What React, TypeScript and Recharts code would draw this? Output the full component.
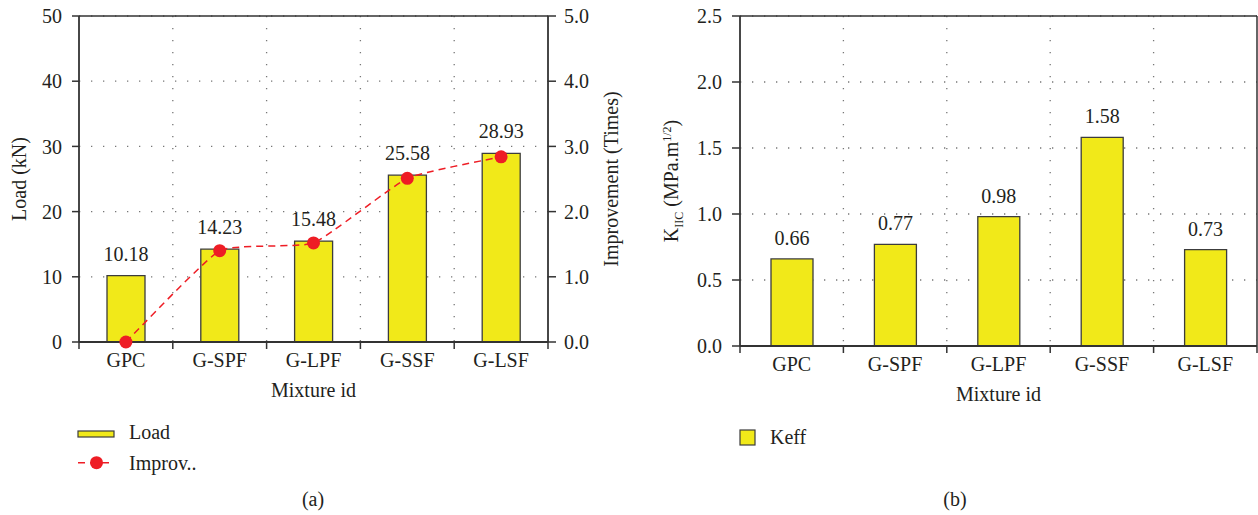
import React from "react";
import {
  ComposedChart,
  BarChart,
  Bar,
  Line,
  XAxis,
  YAxis,
  CartesianGrid,
  LabelList,
  Legend,
  ReferenceLine,
} from "recharts";

// values
const mixtures = ["GPC", "G-SPF", "G-LPF", "G-SSF", "G-LSF"];
const loadKN = [10.18, 14.23, 15.48, 25.58, 28.93];
const improvementTimes = [0, 1.4, 1.52, 2.51, 2.84];
const keffValues = [0.66, 0.77, 0.98, 1.58, 0.73];

const loadTicks = [0, 10, 20, 30, 40, 50];
const improvementTicks = [0, 1, 2, 3, 4, 5];
const keffTicks = [0, 0.5, 1, 1.5, 2, 2.5];

const loadData = mixtures.map((m, i) => ({
  mixture: m,
  load: loadKN[i],
  improvement: improvementTimes[i],
}));
const keffData = mixtures.map((m, i) => ({ mixture: m, keff: keffValues[i] }));

const FONT = "'Liberation Serif', 'DejaVu Serif', serif";
const TEXT = "#231F20";
const AXIS = "#333333";
const GRID = "#777777";
const YELLOW = "#F1E919";
const BAR_STROKE = "#3C3C3C";
const RED = "#EE1D25";
const FS = 20;

const tickStyle = { fontSize: FS, fontFamily: FONT, fill: TEXT };

// lightly smoothed line: cardinal spline with a low tension, close to straight segments
const SMOOTH = 1 / 14;
const smoothCurve = (context: any) => {
  let pts: number[][] = [];
  return {
    areaStart() {},
    areaEnd() {},
    lineStart() {
      pts = [];
    },
    point(x: number, y: number) {
      pts.push([+x, +y]);
    },
    lineEnd() {
      if (!pts.length) return;
      context.moveTo(pts[0][0], pts[0][1]);
      for (let i = 0; i < pts.length - 1; i++) {
        const p0 = pts[i - 1] || pts[i];
        const p1 = pts[i];
        const p2 = pts[i + 1];
        const p3 = pts[i + 2] || p2;
        context.bezierCurveTo(
          p1[0] + (p2[0] - p0[0]) * SMOOTH,
          p1[1] + (p2[1] - p0[1]) * SMOOTH,
          p2[0] - (p3[0] - p1[0]) * SMOOTH,
          p2[1] - (p3[1] - p1[1]) * SMOOTH,
          p2[0],
          p2[1]
        );
      }
    },
  };
};

// category tick: label at band centre, tick marks on the band edges
const CategoryTick = (props: any) => {
  const { x, y, payload, index, width } = props;
  const band = width / mixtures.length;
  const axisY = y - 10;
  const left = x - band / 2;
  const right = x + band / 2;
  return (
    <g>
      <line x1={left} x2={left} y1={axisY} y2={axisY + 7} stroke={AXIS} strokeWidth={1.5} />
      {index === mixtures.length - 1 && (
        <line x1={right} x2={right} y1={axisY} y2={axisY + 7} stroke={AXIS} strokeWidth={1.5} />
      )}
      <text x={x} y={y} dy="0.75em" textAnchor="middle" fontSize={FS} fontFamily={FONT} fill={TEXT}>
        {payload.value}
      </text>
    </g>
  );
};

const bandEdges = ({ offset }: any) =>
  [1, 2, 3, 4].map((i) => offset.left + (i * offset.width) / mixtures.length);

const xTitle = (dy: number) => (p: any) => {
  const vb = p.viewBox;
  return (
    <text x={vb.x + vb.width / 2} y={vb.y + dy} textAnchor="middle" fontSize={FS} fontFamily={FONT} fill={TEXT}>
      Mixture id
    </text>
  );
};

const LoadLegend = () => (
  <svg width={200} height={60}>
    <rect x={8} y={11} width={36} height={6} fill={YELLOW} stroke={BAR_STROKE} strokeWidth={1.2} />
    <text x={59} y={19} fontSize={FS} fontFamily={FONT} fill={TEXT}>Load</text>
    <line x1={8} x2={44} y1={42.7} y2={42.7} stroke={RED} strokeWidth={1.5} strokeDasharray="7 5" />
    <circle cx={26.5} cy={42.7} r={6.5} fill={RED} />
    <text x={59} y={50} fontSize={FS} fontFamily={FONT} fill={TEXT}>Improv..</text>
  </svg>
);

const KeffLegend = () => (
  <svg width={120} height={40}>
    <rect x={10} y={10} width={15} height={15} fill={YELLOW} stroke={BAR_STROKE} strokeWidth={1.2} />
    <text x={40} y={24} fontSize={FS} fontFamily={FONT} fill={TEXT}>Keff</text>
  </svg>
);

const LoadChart = () => (
  <ComposedChart
    width={640}
    height={515}
    data={loadData}
    margin={{ top: 16, right: 0, left: 0, bottom: 115 }}
  >
    <CartesianGrid
      yAxisId="left"
      stroke={GRID}
      strokeWidth={1.3}
      strokeDasharray="1.3 10.7"
      verticalCoordinatesGenerator={bandEdges}
    />
    <XAxis
      dataKey="mixture"
      interval={0}
      height={58}
      tickSize={7}
      tickMargin={3}
      tickLine={false}
      axisLine={{ stroke: AXIS, strokeWidth: 1.8 }}
      tick={<CategoryTick />}
      label={{ content: xTitle(55) }}
    />
    <YAxis
      yAxisId="left"
      width={79}
      domain={[0, 50]}
      ticks={loadTicks}
      interval={0}
      tickSize={7}
      tickMargin={10}
      tick={tickStyle}
      tickLine={{ stroke: AXIS, strokeWidth: 1.5 }}
      axisLine={{ stroke: AXIS, strokeWidth: 1.8 }}
      label={{
        content: (p: any) => {
          const vb = p.viewBox;
          const cx = vb.x + 26;
          const cy = vb.y + vb.height / 2;
          return (
            <text x={cx} y={cy} transform={`rotate(-90, ${cx}, ${cy})`} textAnchor="middle" fontSize={FS} fontFamily={FONT} fill={TEXT}>
              Load (kN)
            </text>
          );
        },
      }}
    />
    <YAxis
      yAxisId="right"
      orientation="right"
      width={92}
      domain={[0, 5]}
      ticks={improvementTicks}
      interval={0}
      tickSize={8}
      tickMargin={8}
      tickFormatter={(v: number) => v.toFixed(1)}
      tick={tickStyle}
      tickLine={{ stroke: AXIS, strokeWidth: 1.5 }}
      axisLine={{ stroke: AXIS, strokeWidth: 1.8 }}
      label={{
        content: (p: any) => {
          const vb = p.viewBox;
          const cx = vb.x + 70;
          const cy = vb.y + vb.height / 2;
          return (
            <text x={cx} y={cy} transform={`rotate(-90, ${cx}, ${cy})`} textAnchor="middle" fontSize={FS} fontFamily={FONT} fill={TEXT}>
              Improvement (Times)
            </text>
          );
        },
      }}
    />
    <ReferenceLine yAxisId="left" y={50} stroke={AXIS} strokeWidth={1.5} />
    <Bar
      yAxisId="left"
      dataKey="load"
      name="Load"
      barSize={38}
      fill={YELLOW}
      stroke={BAR_STROKE}
      strokeWidth={1.3}
      isAnimationActive={false}
    >
      <LabelList dataKey="load" position="top" offset={15} fontSize={FS} fontFamily={FONT} fill={TEXT} />
    </Bar>
    <Line
      yAxisId="right"
      type={smoothCurve as any}
      dataKey="improvement"
      name="Improv.."
      stroke={RED}
      strokeWidth={1.5}
      strokeDasharray="7 5"
      dot={{ r: 6.5, fill: RED, stroke: "none", strokeDasharray: "" }}
      activeDot={false}
      isAnimationActive={false}
    />
    <Legend
      layout="vertical"
      align="center"
      verticalAlign="middle"
      content={() => <LoadLegend />}
      wrapperStyle={{ left: 70, top: 420, width: 200, height: 60 }}
    />
  </ComposedChart>
);

const KeffChart = () => (
  <BarChart
    width={618}
    height={515}
    data={keffData}
    margin={{ top: 16, right: 0, left: 0, bottom: 111 }}
  >
    <CartesianGrid
      yAxisId="k"
      stroke={GRID}
      strokeWidth={1.3}
      strokeDasharray="1.3 10.7"
      verticalCoordinatesGenerator={bandEdges}
    />
    <XAxis
      dataKey="mixture"
      interval={0}
      height={58}
      tickSize={7}
      tickMargin={3}
      tickLine={false}
      axisLine={{ stroke: AXIS, strokeWidth: 1.8 }}
      tick={<CategoryTick />}
      label={{ content: xTitle(55) }}
    />
    <YAxis
      yAxisId="k"
      width={100}
      domain={[0, 2.5]}
      ticks={keffTicks}
      interval={0}
      tickSize={8}
      tickMargin={10}
      tickFormatter={(v: number) => v.toFixed(1)}
      tick={tickStyle}
      tickLine={{ stroke: AXIS, strokeWidth: 1.5 }}
      axisLine={{ stroke: AXIS, strokeWidth: 1.8 }}
      label={{
        content: (p: any) => {
          const vb = p.viewBox;
          const cx = vb.x + 38;
          const cy = vb.y + vb.height / 2;
          return (
            <text x={cx} y={cy} transform={`rotate(-90, ${cx}, ${cy})`} textAnchor="middle" fontSize={FS} fontFamily={FONT} fill={TEXT}>
              K
              <tspan fontSize={12} dy={5}>IIC</tspan>
              <tspan dy={-5}> (MPa.m</tspan>
              <tspan fontSize={12} dy={-7}>1/2</tspan>
              <tspan dy={7}>)</tspan>
            </text>
          );
        },
      }}
    />
    <YAxis
      yAxisId="frame"
      orientation="right"
      width={1}
      type="number"
      domain={[0, 1]}
      tick={false}
      tickLine={false}
      axisLine={{ stroke: AXIS, strokeWidth: 1.5 }}
    />
    <ReferenceLine yAxisId="k" y={2.5} stroke={AXIS} strokeWidth={1.5} />
    <Bar
      yAxisId="k"
      dataKey="keff"
      name="Keff"
      barSize={42}
      fill={YELLOW}
      stroke={BAR_STROKE}
      strokeWidth={1.3}
      isAnimationActive={false}
    >
      <LabelList dataKey="keff" position="top" offset={14} fontSize={FS} fontFamily={FONT} fill={TEXT} />
    </Bar>
    <Legend
      layout="vertical"
      align="center"
      verticalAlign="middle"
      content={() => <KeffLegend />}
      wrapperStyle={{ left: 90, top: 420, width: 120, height: 40 }}
    />
  </BarChart>
);

export default function App() {
  return (
    <div style={{ position: "absolute", left: 0, top: 0, width: 1258, height: 515, background: "#fff" }}>
      <div style={{ position: "absolute", left: 0, top: 0 }}>
        <LoadChart />
      </div>
      <div style={{ position: "absolute", left: 640, top: 0 }}>
        <KeffChart />
      </div>
      <svg width={1258} height={515} style={{ position: "absolute", left: 0, top: 0, pointerEvents: "none" }}>
        <text x={313} y={506} textAnchor="middle" fontSize={FS} fontFamily={FONT} fill={TEXT}>(a)</text>
        <text x={955} y={506} textAnchor="middle" fontSize={FS} fontFamily={FONT} fill={TEXT}>(b)</text>
      </svg>
    </div>
  );
}
